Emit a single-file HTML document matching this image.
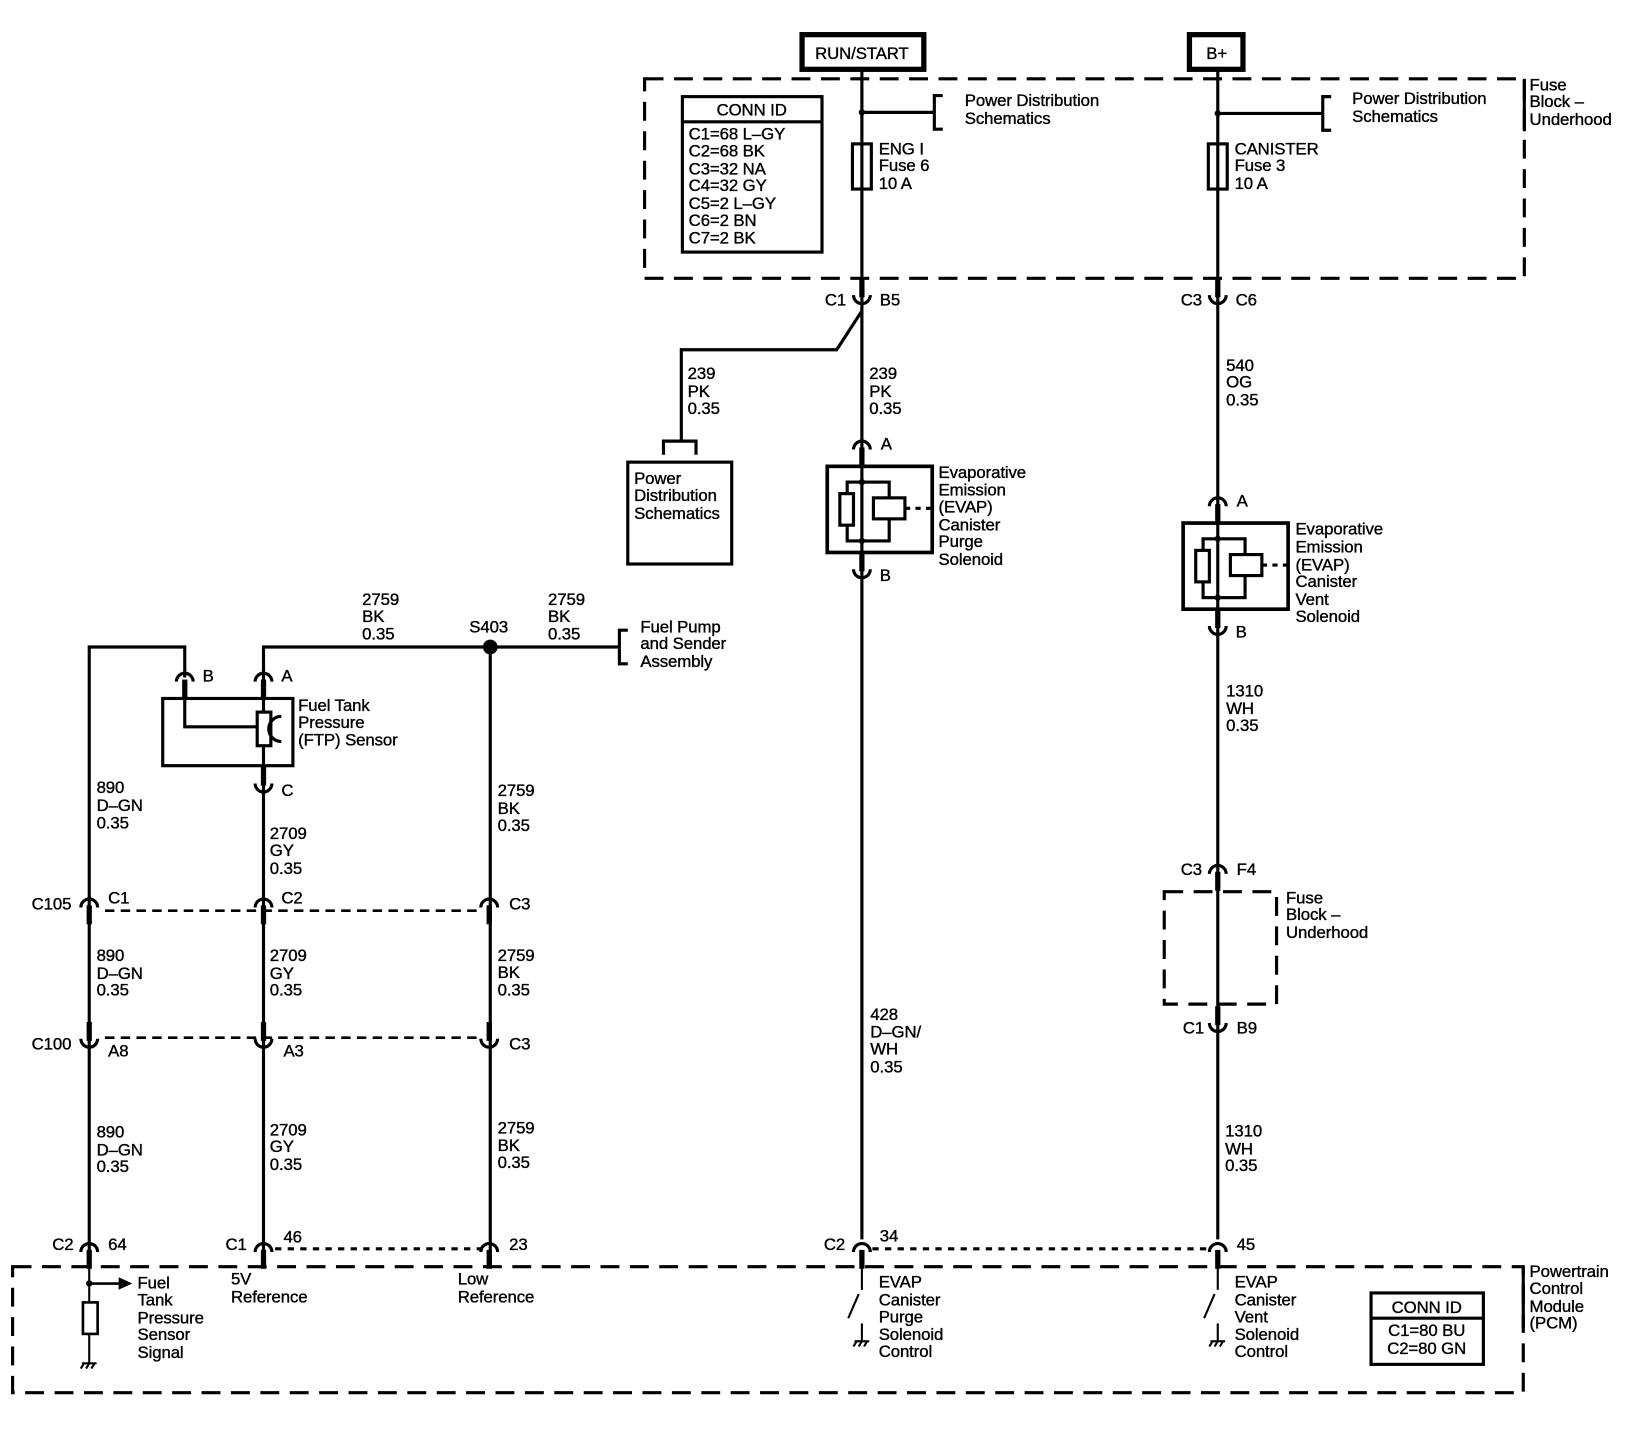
<!DOCTYPE html>
<html><head><meta charset="utf-8"><style>
html,body{margin:0;padding:0;background:#fff}
svg{display:block}
text{font-family:"Liberation Sans",Arial,sans-serif;font-size:16px;fill:#000;stroke:#000;stroke-width:0.35px;letter-spacing:-0.1px}
</style></head><body>
<svg width="1644" height="1440" viewBox="0 0 1566 1371" preserveAspectRatio="none" xmlns="http://www.w3.org/2000/svg">
<defs>
<g id="cd"><path d="M-8,4 A8,8 0 0 1 8,4" fill="none" stroke="#000" stroke-width="3"/><rect x="-2.5" y="2" width="5" height="18" fill="#000"/></g>
<g id="cu"><path d="M-8,-4 A8,8 0 0 0 8,-4" fill="none" stroke="#000" stroke-width="3"/><rect x="-2.5" y="-20" width="5" height="18" fill="#000"/></g>
<g id="gnd" stroke="#000" stroke-width="2" fill="none"><line x1="-7" y1="0" x2="7" y2="0"/><line x1="-5" y1="0" x2="-8" y2="5"/><line x1="0" y1="0" x2="-3" y2="5"/><line x1="5" y1="0" x2="2" y2="5"/></g>
</defs>
<g stroke="#000" fill="none">
<rect x="764" y="33" width="116" height="33" stroke-width="5"/>
<rect x="1133" y="33" width="51" height="33" stroke-width="5"/>
<rect x="614" y="75" width="838" height="190" stroke-width="3" stroke-dasharray="18,10"/>
<line x1="1452" y1="75" x2="1452" y2="125" stroke-width="3"/>
<rect x="650" y="92" width="133" height="148" stroke-width="3"/>
<line x1="650" y1="116" x2="783" y2="116" stroke-width="3"/>
<line x1="821" y1="68" x2="821" y2="1180" stroke-width="3"/>
<line x1="1160" y1="68" x2="1160" y2="1180" stroke-width="3"/>
<line x1="821" y1="107" x2="890" y2="107" stroke-width="3"/>
<path d="M898,91 H890 V123 H898" stroke-width="3"/>
<line x1="1160" y1="108" x2="1260" y2="108" stroke-width="3"/>
<path d="M1268,92 H1260 V124 H1268" stroke-width="3"/>
<rect x="812" y="137" width="18" height="43" fill="#fff" stroke-width="3"/>
<line x1="821" y1="137" x2="821" y2="180" stroke-width="3"/>
<rect x="1151" y="137" width="18" height="43" fill="#fff" stroke-width="3"/>
<line x1="1160" y1="137" x2="1160" y2="180" stroke-width="3"/>
<path d="M821,296 L797,333 H649 V420" stroke-width="3"/>
<path d="M632,433 V420 H663 V433" stroke-width="3"/>
<rect x="598" y="440" width="99" height="97" stroke-width="3"/>
<rect x="788" y="444" width="100" height="82" stroke-width="3.5"/>
<rect x="807" y="459" width="40" height="56" stroke-width="3"/>
<rect x="800" y="470" width="13" height="30" fill="#fff" stroke-width="3"/>
<rect x="832" y="474" width="30" height="20" fill="#fff" stroke-width="3"/>
<line x1="862" y1="484" x2="888" y2="484" stroke-width="3" stroke-dasharray="5,5"/>
<rect x="1127" y="498" width="100" height="82" stroke-width="3.5"/>
<rect x="1146" y="513" width="40" height="56" stroke-width="3"/>
<rect x="1139" y="524" width="13" height="30" fill="#fff" stroke-width="3"/>
<rect x="1172" y="528" width="30" height="20" fill="#fff" stroke-width="3"/>
<line x1="1202" y1="538" x2="1227" y2="538" stroke-width="3" stroke-dasharray="5,5"/>
<rect x="1109" y="849" width="107" height="107" stroke-width="3" stroke-dasharray="18,10"/>
<rect x="12" y="1206" width="1439" height="120" stroke-width="3" stroke-dasharray="18,10"/>
<line x1="1451" y1="1206" x2="1451" y2="1265" stroke-width="3"/>
<rect x="1306" y="1231" width="107" height="68" stroke-width="3"/>
<line x1="1306" y1="1255" x2="1413" y2="1255" stroke-width="3"/>
<line x1="262" y1="1189" x2="460" y2="1189" stroke-width="3" stroke-dasharray="6,6"/>
<line x1="831" y1="1189" x2="1152" y2="1189" stroke-width="3" stroke-dasharray="6,6"/>
<line x1="821" y1="1206" x2="821" y2="1228" stroke-width="2"/>
<line x1="818" y1="1232" x2="808" y2="1255" stroke-width="2"/>
<line x1="821" y1="1260" x2="821" y2="1277" stroke-width="2"/>
<line x1="1160" y1="1206" x2="1160" y2="1228" stroke-width="2"/>
<line x1="1157" y1="1232" x2="1147" y2="1255" stroke-width="2"/>
<line x1="1160" y1="1260" x2="1160" y2="1277" stroke-width="2"/>
<path d="M85,1206 V616 H176 V645" stroke-width="3"/>
<path d="M251,645 V616 H590" stroke-width="3"/>
<path d="M598,600 H590 V632 H598" stroke-width="3"/>
<line x1="467" y1="616" x2="467" y2="1206" stroke-width="3"/>
<line x1="251" y1="645" x2="251" y2="1206" stroke-width="3"/>
<rect x="155" y="665" width="124" height="64" stroke-width="3"/>
<path d="M176,665 V692 H245" stroke-width="3"/>
<rect x="245" y="678" width="13" height="32" fill="#fff" stroke-width="3"/>
<path d="M268,682 A11,11 0 0 0 268,706" stroke-width="3"/>
<line x1="100" y1="867" x2="458" y2="867" stroke-width="2.5" stroke-dasharray="9,6"/>
<line x1="100" y1="988" x2="458" y2="988" stroke-width="2.5" stroke-dasharray="9,6"/>
<line x1="85" y1="1206" x2="85" y2="1298" stroke-width="2"/>
<line x1="85" y1="1222" x2="115" y2="1222" stroke-width="2.5"/>
<rect x="79" y="1240" width="14" height="30" fill="#fff" stroke-width="2.5"/>
</g>
<polygon points="113,1216 126,1222 113,1228" fill="#000"/>
<circle cx="85" cy="1222" r="3" fill="#000"/>
<circle cx="467" cy="616" r="7" fill="#000"/>
<circle cx="821" cy="107" r="3" fill="#000"/>
<circle cx="1160" cy="108" r="3" fill="#000"/>
<circle cx="821" cy="459" r="3" fill="#000"/><circle cx="821" cy="515" r="3" fill="#000"/>
<circle cx="1160" cy="513" r="3" fill="#000"/><circle cx="1160" cy="569" r="3" fill="#000"/>
<use href="#cu" x="821" y="285"/><use href="#cu" x="1160" y="285"/>
<use href="#cd" x="821" y="424"/><use href="#cu" x="821" y="546"/>
<use href="#cd" x="1160" y="478"/><use href="#cu" x="1160" y="600"/>
<use href="#cd" x="1160" y="828"/><use href="#cu" x="1160" y="978"/>
<use href="#cd" x="176" y="645"/><use href="#cd" x="251" y="645"/><use href="#cu" x="251" y="750"/>
<use href="#cd" x="85" y="860"/><use href="#cd" x="251" y="860"/><use href="#cd" x="466" y="860"/>
<use href="#cu" x="85" y="993"/><use href="#cu" x="251" y="993"/><use href="#cu" x="466" y="993"/>
<use href="#cd" x="85" y="1188"/><use href="#cd" x="251" y="1188"/><use href="#cd" x="466" y="1188"/>
<use href="#cd" x="821" y="1188"/><use href="#cd" x="1160" y="1188"/>
<use href="#gnd" x="821" y="1277"/><use href="#gnd" x="1160" y="1277"/><use href="#gnd" x="85" y="1298"/>
<text x="821" y="56" text-anchor="middle">RUN/START</text>
<text x="1159" y="56" text-anchor="middle">B+</text>
<text x="1457" y="86">Fuse</text><text x="1457" y="102">Block –</text><text x="1457" y="119">Underhood</text>
<text x="716" y="110" text-anchor="middle">CONN ID</text>
<text x="656" y="133">C1=68 L–GY</text><text x="656" y="149">C2=68 BK</text><text x="656" y="166">C3=32 NA</text><text x="656" y="182">C4=32 GY</text><text x="656" y="199">C5=2 L–GY</text><text x="656" y="215">C6=2 BN</text><text x="656" y="232">C7=2 BK</text>
<text x="919" y="101">Power Distribution</text><text x="919" y="118">Schematics</text>
<text x="1288" y="99">Power Distribution</text><text x="1288" y="116">Schematics</text>
<text x="837" y="147">ENG I</text><text x="837" y="163">Fuse 6</text><text x="837" y="180">10 A</text>
<text x="1176" y="147">CANISTER</text><text x="1176" y="163">Fuse 3</text><text x="1176" y="180">10 A</text>
<text x="806" y="291" text-anchor="end">C1</text><text x="838" y="291">B5</text>
<text x="1145" y="291" text-anchor="end">C3</text><text x="1177" y="291">C6</text>
<text x="655" y="361">239</text><text x="655" y="378">PK</text><text x="655" y="394">0.35</text>
<text x="828" y="361">239</text><text x="828" y="378">PK</text><text x="828" y="394">0.35</text>
<text x="1168" y="353">540</text><text x="1168" y="369">OG</text><text x="1168" y="386">0.35</text>
<text x="604" y="461">Power</text><text x="604" y="477">Distribution</text><text x="604" y="494">Schematics</text>
<text x="839" y="428">A</text><text x="838" y="553">B</text>
<text x="894" y="455">Evaporative</text><text x="894" y="472">Emission</text><text x="894" y="488">(EVAP)</text><text x="894" y="505">Canister</text><text x="894" y="521">Purge</text><text x="894" y="538">Solenoid</text>
<text x="1178" y="482">A</text><text x="1177" y="607">B</text>
<text x="1234" y="509">Evaporative</text><text x="1234" y="526">Emission</text><text x="1234" y="543">(EVAP)</text><text x="1234" y="559">Canister</text><text x="1234" y="576">Vent</text><text x="1234" y="592">Solenoid</text>
<text x="1168" y="663">1310</text><text x="1168" y="680">WH</text><text x="1168" y="696">0.35</text>
<text x="1145" y="833" text-anchor="end">C3</text><text x="1178" y="833">F4</text>
<text x="1225" y="860">Fuse</text><text x="1225" y="876">Block –</text><text x="1225" y="893">Underhood</text>
<text x="1147" y="984" text-anchor="end">C1</text><text x="1178" y="984">B9</text>
<text x="1167" y="1082">1310</text><text x="1167" y="1099">WH</text><text x="1167" y="1115">0.35</text>
<text x="829" y="971">428</text><text x="829" y="988">D–GN/</text><text x="829" y="1004">WH</text><text x="829" y="1021">0.35</text>
<text x="805" y="1190" text-anchor="end">C2</text><text x="838" y="1182">34</text><text x="1178" y="1190">45</text>
<text x="1457" y="1216">Powertrain</text><text x="1457" y="1232">Control</text><text x="1457" y="1249">Module</text><text x="1457" y="1265">(PCM)</text>
<text x="1359" y="1250" text-anchor="middle">CONN ID</text><text x="1359" y="1272" text-anchor="middle">C1=80 BU</text><text x="1359" y="1289" text-anchor="middle">C2=80 GN</text>
<text x="837" y="1226">EVAP</text><text x="837" y="1243">Canister</text><text x="837" y="1259">Purge</text><text x="837" y="1276">Solenoid</text><text x="837" y="1292">Control</text>
<text x="1176" y="1226">EVAP</text><text x="1176" y="1243">Canister</text><text x="1176" y="1259">Vent</text><text x="1176" y="1276">Solenoid</text><text x="1176" y="1292">Control</text>
<text x="345" y="576">2759</text><text x="345" y="592">BK</text><text x="345" y="609">0.35</text>
<text x="522" y="576">2759</text><text x="522" y="592">BK</text><text x="522" y="609">0.35</text>
<text x="447" y="602">S403</text>
<text x="610" y="602">Fuel Pump</text><text x="610" y="618">and Sender</text><text x="610" y="635">Assembly</text>
<text x="193" y="649">B</text><text x="268" y="649">A</text><text x="268" y="758">C</text>
<text x="284" y="677">Fuel Tank</text><text x="284" y="693">Pressure</text><text x="284" y="710">(FTP) Sensor</text>
<text x="92" y="755">890</text><text x="92" y="772">D–GN</text><text x="92" y="789">0.35</text>
<text x="92" y="915">890</text><text x="92" y="932">D–GN</text><text x="92" y="948">0.35</text>
<text x="92" y="1083">890</text><text x="92" y="1100">D–GN</text><text x="92" y="1116">0.35</text>
<text x="257" y="799">2709</text><text x="257" y="815">GY</text><text x="257" y="832">0.35</text>
<text x="257" y="915">2709</text><text x="257" y="932">GY</text><text x="257" y="948">0.35</text>
<text x="257" y="1081">2709</text><text x="257" y="1097">GY</text><text x="257" y="1114">0.35</text>
<text x="474" y="758">2759</text><text x="474" y="775">BK</text><text x="474" y="791">0.35</text>
<text x="474" y="915">2759</text><text x="474" y="931">BK</text><text x="474" y="948">0.35</text>
<text x="474" y="1079">2759</text><text x="474" y="1096">BK</text><text x="474" y="1112">0.35</text>
<text x="68" y="866" text-anchor="end">C105</text><text x="103" y="860">C1</text><text x="268" y="860">C2</text><text x="485" y="866">C3</text>
<text x="68" y="999" text-anchor="end">C100</text><text x="103" y="1006">A8</text><text x="270" y="1006">A3</text><text x="485" y="999">C3</text>
<text x="70" y="1190" text-anchor="end">C2</text><text x="103" y="1190">64</text>
<text x="235" y="1190" text-anchor="end">C1</text><text x="270" y="1183">46</text><text x="485" y="1190">23</text>
<text x="131" y="1227">Fuel</text><text x="131" y="1243">Tank</text><text x="131" y="1260">Pressure</text><text x="131" y="1276">Sensor</text><text x="131" y="1293">Signal</text>
<text x="220" y="1223">5V</text><text x="220" y="1240">Reference</text>
<text x="436" y="1223">Low</text><text x="436" y="1240">Reference</text>
</svg>
</body></html>
